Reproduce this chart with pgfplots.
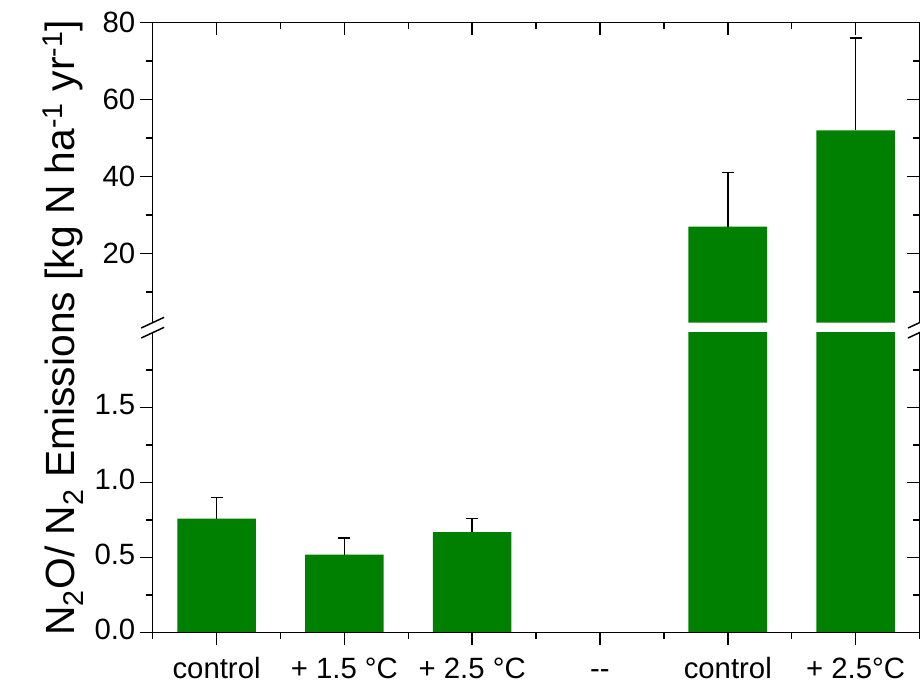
\documentclass[border=0pt]{standalone}
\usepackage{fontspec}
\setmainfont{Liberation Sans}
\usepackage{pgfplots}
\pgfplotsset{compat=1.18}
\definecolor{barg}{RGB}{0,128,0}
\begin{document}
\begin{tikzpicture}
\pgfplotsset{
  base/.style={scale only axis, width=575.1pt, height=225pt, xmin=-0.5, xmax=5.5,
    anchor=south west, axis line style={draw=none},
    /pgf/number format/assume math mode=true,
    tick style={black, line width=1.1pt},
    major tick length=9.5pt, minor tick length=5pt,
    tick label style={font=\fontsize{22}{26}\selectfont},
    xtick={0,1,2,3,4,5}, minor xtick={-0.5,0.5,1.5,2.5,3.5,4.5,5.5}},
  lowy/.style={ymin=0, ymax=2, ytick={0,0.5,1,1.5}, minor ytick={0.25,0.75,1.25,1.75}},
  upy/.style={ymin=2, ymax=80, ytick={20,40,60,80}, minor ytick={10,30,50,70}},
  bars/.style={ybar, bar width=0.615, bar shift=0pt, fill=barg, draw=none},
  errs/.style={error bars/.cd, y dir=plus, y explicit, error mark=|,
    error bar style={line width=1.1pt, black},
    error mark options={black, line width=1.1pt, mark size=4.5pt}},
}
\path[use as bounding box] (-114.5pt,-41.5pt) rectangle (575.5pt,474.5pt);

% lower panel
\begin{axis}[base, lowy, at={(0pt,0pt)}, tick align=outside, xtick pos=bottom, ytick pos=left,
  yticklabels={0.0,0.5,1.0,1.5},
  typeset ticklabels with strut,
  xticklabel style={yshift=-3pt},
  xticklabels={control,+ 1.5 °C,+ 2.5 °C,-{}-,control,+ 2.5°C}]
\addplot[bars, errs] coordinates {(0,0.76) +- (0,0.14) (1,0.52) +- (0,0.11) (2,0.67) +- (0,0.09)};
\addplot[bars] coordinates {(4,27) (5,52)};
\end{axis}
\begin{axis}[base, lowy, at={(0pt,0pt)}, tick align=inside, xtick=\empty, minor xtick={}, ytick pos=right,
  yticklabels={}]
\end{axis}

% upper panel
\begin{axis}[base, upy, at={(0pt,232.5pt)}, tick align=outside, xtick=\empty, minor xtick={}, ytick pos=left,
  yticklabels={20,40,60,80}]
\addplot[bars, errs] coordinates {(4,27) +- (0,14) (5,52) +- (0,24)};
\end{axis}
\begin{axis}[base, upy, at={(0pt,232.5pt)}, tick align=inside, xtick pos=top, ytick pos=right,
  yticklabels={}, xticklabels={}]
\end{axis}

% frame
\draw[line width=1.1pt] (0pt,225pt) -- (0pt,0pt) -- (575.1pt,0pt) -- (575.1pt,225pt);
\draw[line width=1.1pt] (0pt,232.5pt) -- (0pt,457.5pt) -- (575.1pt,457.5pt) -- (575.1pt,232.5pt);
% break marks
\foreach \xx in {0pt,575.1pt}{
  \draw[line width=1.1pt] ([xshift=-8.6pt]\xx,221pt) -- ([xshift=8.6pt]\xx,229pt);
  \draw[line width=1.1pt] ([xshift=-8.6pt]\xx,228.5pt) -- ([xshift=8.6pt]\xx,236.5pt);
}
\node[rotate=90, font=\fontsize{30.6}{36}\selectfont] at (-67pt,228.75pt)
  {N\textsubscript{2}O/ N\textsubscript{2} Emissions [kg N ha\textsuperscript{-1} yr\textsuperscript{-1}]};
\end{tikzpicture}
\end{document}
